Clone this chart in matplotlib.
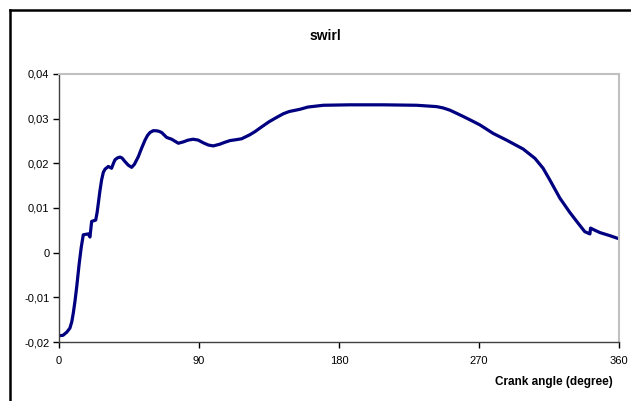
import matplotlib
matplotlib.use("Agg")
import matplotlib.pyplot as plt
from matplotlib.lines import Line2D
from matplotlib.ticker import FuncFormatter

# crank angle (degree) and swirl values
angle = [0, 2.6, 5, 7, 8.2, 9.2, 10.3, 11.4, 13, 14.3, 15.6, 18.8, 19.9, 21,
         23.6, 24.5, 25.3, 26.3, 27.4, 28.5, 29.6, 31.7, 33.8, 35, 36, 37.5,
         39.2, 40.5, 42.4, 44.5, 46.7, 48.5, 51, 53, 55.3, 57, 58.5, 60.5, 62.3,
         64, 66, 69.2, 72.4, 76.7, 79.9, 83, 86.3, 89.5, 92.7, 96, 99.2, 103.5,
         106.5, 110, 114, 117.4, 122.7, 126, 129.2, 135, 140, 144.2, 148, 154.9,
         160, 169.9, 187, 208.4, 229.9, 242.7, 247, 251.3, 255, 259.8, 265,
         270.6, 279.1, 287.7, 298.4, 306, 311.2, 315.5, 322, 328.4, 333.7, 338,
         341.3, 341.7, 344, 347.7, 354.2, 360]
swirl = [-0.0186, -0.0185, -0.0178, -0.0169, -0.0155, -0.0135, -0.0108, -0.0076,
         -0.0024, 0.0012, 0.0040, 0.0042, 0.0035, 0.0070, 0.0073, 0.0090, 0.0111,
         0.0138, 0.0163, 0.0180, 0.0187, 0.0193, 0.0189, 0.0200, 0.0208, 0.0212,
         0.0214, 0.0212, 0.0204, 0.0196, 0.0191, 0.0198, 0.0215, 0.0233, 0.0252,
         0.0263, 0.0269, 0.0273, 0.0273, 0.0272, 0.0269, 0.0258, 0.0254, 0.0245,
         0.0248, 0.0252, 0.0254, 0.0252, 0.0246, 0.0241, 0.0239, 0.0243, 0.0247,
         0.0251, 0.0253, 0.0255, 0.0264, 0.0271, 0.0279, 0.0293, 0.0303, 0.0311,
         0.0316, 0.0321, 0.0326, 0.0330, 0.0331, 0.0331, 0.0330, 0.0327, 0.0324,
         0.0319, 0.0313, 0.0305, 0.0296, 0.0286, 0.0267, 0.0252, 0.0232, 0.0211,
         0.0189, 0.0163, 0.0122, 0.0090, 0.0066, 0.0047, 0.0042, 0.0055, 0.0051,
         0.0045, 0.0038, 0.0031]
xticks = [0, 90, 180, 270, 360]
yticks = [-0.02, -0.01, 0, 0.01, 0.02, 0.03, 0.04]

plt.rcParams['font.family'] = ['Liberation Sans', 'DejaVu Sans']

fig = plt.figure(figsize=(6.31, 4.01), dpi=100)
ax = fig.add_axes([59 / 631, 1 - 342 / 401, 560 / 631, 268 / 401])

ax.plot(angle, swirl, color='#000080', linewidth=2.3, solid_joinstyle='round', solid_capstyle='round')

ax.set_xlim(0, 360)
ax.set_ylim(-0.02, 0.04)
ax.set_xticks(xticks)
ax.set_yticks(yticks)
ax.yaxis.set_major_formatter(FuncFormatter(lambda v, p: '0' if abs(v) < 1e-9 else f'{v:.2f}'.replace('.', ',')))
ax.tick_params(direction='out', length=4, width=1, labelsize=8, colors='black', pad=3)
ax.tick_params(axis='x', pad=6)

for side in ['left', 'bottom']:
    ax.spines[side].set_color('#404040')
    ax.spines[side].set_linewidth(1)
for side in ['top', 'right']:
    ax.spines[side].set_color('#c0c0c0')
    ax.spines[side].set_linewidth(1.5)

fig.text(325 / 631, 1 - 36 / 401, 'swirl', ha='center', va='center', fontsize=10, fontweight='bold')
fig.text(613 / 631, 1 - 382 / 401, 'Crank angle (degree)', ha='right', va='center', fontsize=8.5, fontweight='bold')

# chart frame (left and top edges visible)
fig.add_artist(Line2D([10 / 631, 10 / 631], [0, 1 - 9.5 / 401], color='black', linewidth=1.8, transform=fig.transFigure))
fig.add_artist(Line2D([10 / 631, 1], [1 - 9.5 / 401, 1 - 9.5 / 401], color='black', linewidth=1.8, transform=fig.transFigure))

fig.savefig('out.png', dpi=100)
